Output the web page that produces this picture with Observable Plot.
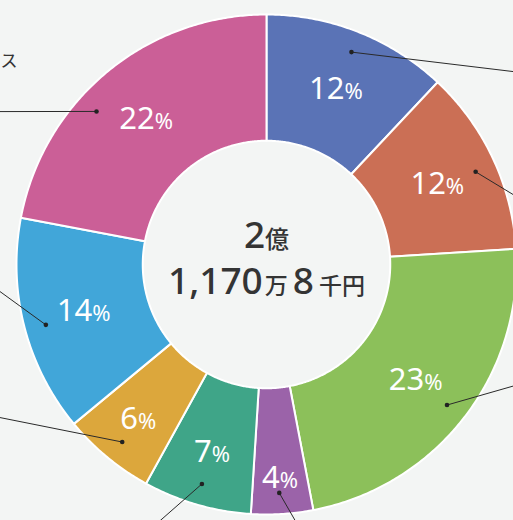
<!DOCTYPE html>
<html><head><meta charset="utf-8">
<script src="https://cdn.jsdelivr.net/npm/d3@7"></script>
<script src="https://cdn.jsdelivr.net/npm/@observablehq/plot@0.6"></script>
<style>
html,body{margin:0;padding:0;background:#f3f5f4;overflow:hidden;width:513px;height:520px;}
#chart svg{display:block;}
</style></head><body><div id="chart"></div>
<script>
// ---- data ----
const categories = ["区分A","区分B","区分C","区分D","区分E","区分F","区分G","区分H"];
const values = [12, 12, 23, 4, 7, 6, 14, 22];
const colors = ["#5a73b6","#cb6f55","#8cc05a","#9b63a9","#3fa588","#dca73c","#41a6d9","#cb5f97"];
const centerLines = ["2億", "1,170万8千円"];
const partialLabel = ["ス"];
// leader lines (polar: degrees clockwise from top, radius relative to outer ring)
const leaderDotAngles = [21.8, 66.1, 127.9, 176.8, 196.4, 219.1, 254.7, 312];
const leaderEndAngles = [57.7, 77.7, 113.2, 172.7, 204.0, 242.8, 268.0, 298.3];
const leaderEndRadii  = [1.40, 1.09, 1.17, 1.07, 1.17, 1.30, 1.16, 1.29];

// ---- geometry ----
const W = 513, H = 520, CX = 266, CY = 264, PX = 250; // px per unit
const INNER = 0.495, DOT_R = 0.915;
const rad = a => a * Math.PI / 180;
const polar = (a, r) => [r * Math.sin(rad(a)), r * Math.cos(rad(a))];

const total = d3.sum(values);
let acc = 0;
const slices = values.map((v, i) => {
  const a0 = acc / total * 360; acc += v; const a1 = acc / total * 360;
  return {i, cat: categories[i], value: v, a0, a1, mid: (a0 + a1) / 2, color: colors[i]};
});
const ring = slices.flatMap(s => {
  const n = Math.max(2, Math.ceil((s.a1 - s.a0) / 0.5));
  const pts = [];
  for (let k = 0; k <= n; k++) { const a = s.a0 + (s.a1 - s.a0) * k / n; const [x, y] = polar(a, 1); pts.push({cat: s.cat, color: s.color, x, y}); }
  for (let k = n; k >= 0; k--) { const a = s.a0 + (s.a1 - s.a0) * k / n; const [x, y] = polar(a, INNER); pts.push({cat: s.cat, color: s.color, x, y}); }
  return pts;
});
const labelR = d => 0.755 + Math.max(0, 8 - d.value) * 0.025;
const font = "'Noto Sans','Noto Sans CJK JP',sans-serif";

const chart = Plot.plot({
  width: W, height: H, margin: 0,
  style: {background: "transparent", overflow: "hidden"},
  x: {domain: [-CX / PX, (W - CX) / PX], range: [0, W], axis: null},
  y: {domain: [-(H - CY) / PX, CY / PX], range: [H, 0], axis: null},
  color: {type: "identity"},
  marks: [
    Plot.line(ring, {x: "x", y: "y", z: "cat", fill: "color", stroke: "white", strokeWidth: 2, curve: "linear-closed"}),
    Plot.link(slices, {
      x1: d => polar(leaderDotAngles[d.i], DOT_R)[0], y1: d => polar(leaderDotAngles[d.i], DOT_R)[1],
      x2: d => polar(leaderEndAngles[d.i], leaderEndRadii[d.i])[0], y2: d => polar(leaderEndAngles[d.i], leaderEndRadii[d.i])[1],
      stroke: "#2a2a2a", strokeWidth: 1, clip: true
    }),
    Plot.dot(slices, {x: d => polar(leaderDotAngles[d.i], DOT_R)[0], y: d => polar(leaderDotAngles[d.i], DOT_R)[1], r: 2.3, fill: "#222", stroke: "none"}),
    Plot.text(slices, {
      x: d => polar(d.mid, labelR(d))[0], y: d => polar(d.mid, labelR(d))[1],
      text: d => d.value + "%", fill: "white", fontSize: 31, fontFamily: font,
      textAnchor: "middle", lineAnchor: "middle"
    }),
    Plot.text([centerLines[0]], {x: () => 0, y: () => 0, text: d => d, dy: -17, lineAnchor: "bottom", textAnchor: "middle", fill: "#343434", fontSize: 37, fontWeight: 500, fontFamily: font}),
    Plot.text([centerLines[1]], {x: () => 0, y: () => 0, text: d => d, dy: 29, lineAnchor: "bottom", textAnchor: "middle", fill: "#343434", fontSize: 37, fontWeight: 500, fontFamily: font}),
    Plot.text(partialLabel, {frameAnchor: "top-left", text: d => d, dx: 0, dy: 66, lineAnchor: "bottom", textAnchor: "start", fill: "#333", fontSize: 17, fontFamily: font})
  ]
});

// mixed font sizes: numbers large, unit characters smaller
d3.select(chart).selectAll("text").each(function () {
  const t = this.textContent;
  const m = /^(\d+)%$/.exec(t);
  const sel = d3.select(this);
  if (m) {
    sel.text(null);
    sel.append("tspan").text(m[1]);
    sel.append("tspan").attr("font-size", 22).text("%");
  } else if (t === centerLines[0] || t === centerLines[1]) {
    const line1 = t === centerLines[0];
    const small = line1 ? 24 : 23;
    const runs = t.match(/[0-9,]+|[^0-9,]+/g);
    sel.text(null);
    runs.forEach((r, k) => {
      const ts = sel.append("tspan").text(r);
      if (k > 0 && !line1) ts.attr("dx", k === 1 ? 2 : 5);
      if (!/^[0-9,]+$/.test(r)) ts.attr("font-size", small);
    });
  }
});
document.getElementById("chart").append(chart);
</script></body></html>
